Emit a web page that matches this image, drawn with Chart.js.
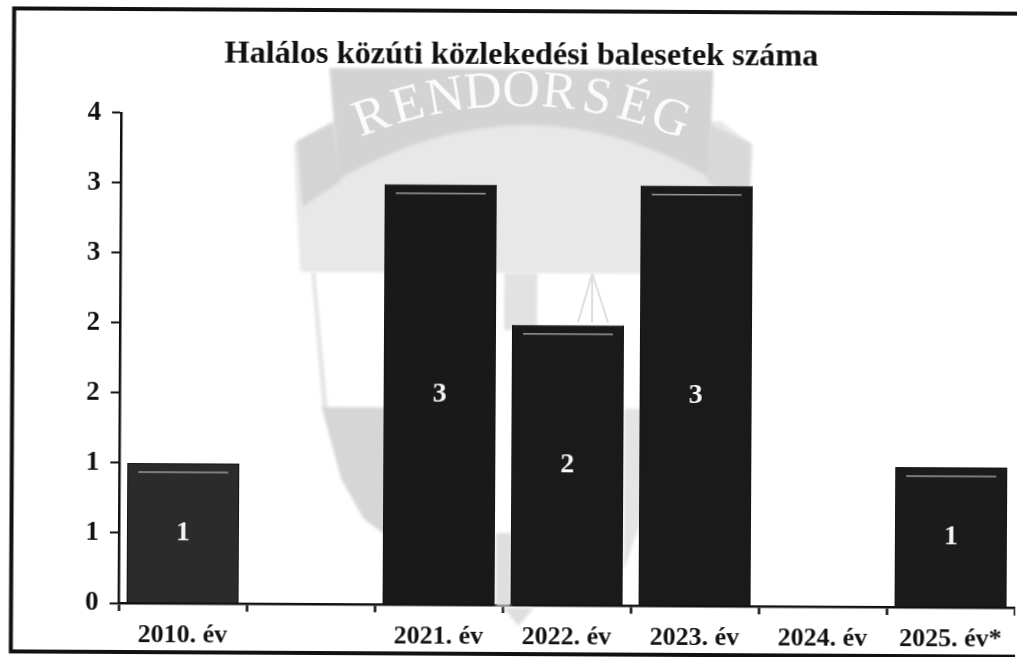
<!DOCTYPE html>
<html lang="hu">
<head>
<meta charset="utf-8">
<title>Halálos közúti közlekedési balesetek száma</title>
<script src="https://cdn.jsdelivr.net/npm/chart.js@4"></script>
<style>
html,body{margin:0;padding:0;background:#fff;overflow:hidden;width:1017px;height:657px}
#c{display:block;transform:rotate(0.3deg);transform-origin:508px 328px}
</style>
</head>
<body>
<canvas id="c" width="1017" height="657"></canvas>
<script>
const chartTitle = 'Halálos közúti közlekedési balesetek száma';
const categories = ['2010. év', '', '2021. év', '2022. év', '2023. év', '2024. év', '2025. év*'];
const values = [1, null, 3, 2, 3, 0, 1];
const barColors = ['#2b2b2b', '#1a1a1a', '#191919', '#1a1a1a', '#1a1a1a', '#1a1a1a', '#1b1b1b'];
const yTickLabels = ['0', '1', '1', '2', '2', '3', '3', '4'];
const watermarkText = 'RENDORSÉG';

const SERIF = '"Liberation Serif", "Times New Roman", serif';
const INK = '#111111';

function poly(ctx, pts, fill) {
  ctx.beginPath();
  pts.forEach((p, i) => i ? ctx.lineTo(p[0], p[1]) : ctx.moveTo(p[0], p[1]));
  ctx.closePath();
  ctx.fillStyle = fill;
  ctx.fill();
}

const watermark = {
  id: 'watermark',
  beforeDatasetsDraw(chart) {
    const ctx = chart.ctx;
    ctx.save();
    ctx.filter = 'blur(1.5px)';
    poly(ctx, [[293,145],[335,120],[720,120],[752,145],[748,210],[745,273],[300,273],[296,210]], '#e8e8e8');
    poly(ctx, [[296,142],[332,124],[340,182],[302,208]], '#d4d4d4');
    poly(ctx, [[710,124],[750,142],[748,205],[706,180]], '#d8d8d8');
    ctx.beginPath();
    ctx.moveTo(328,69);
    ctx.lineTo(712,69);
    ctx.lineTo(708,176);
    ctx.quadraticCurveTo(525,72,338,180);
    ctx.closePath();
    ctx.fillStyle = '#d3d3d3';
    ctx.fill();
    poly(ctx, [[504,273],[537,273],[537,330],[504,330]], '#e2e2e2');
    poly(ctx, [[311,273],[315,273],[328,410],[323,410]], '#e4e4e4');
    poly(ctx, [[322,408],[386,408],[386,535],[365,520],[342,480]], '#d6d6d6');
    poly(ctx, [[625,408],[642,408],[642,520],[625,570]], '#e4e4e4');
    poly(ctx, [[497,533],[512,533],[512,606],[497,606]], '#dedede');
    poly(ctx, [[505,608],[535,608],[520,626]], '#dedede');
    ctx.filter = 'none';
    ctx.strokeStyle = '#dddddd';
    ctx.lineWidth = 2;
    ctx.beginPath();
    ctx.moveTo(592,273); ctx.lineTo(578,322);
    ctx.moveTo(592,273); ctx.lineTo(592,322);
    ctx.moveTo(592,273); ctx.lineTo(608,322);
    ctx.stroke();
    const cx = 520, cy = 520, r = 428, step = 5.1 * Math.PI / 180;
    ctx.font = '52px ' + SERIF;
    ctx.fillStyle = '#fbfbfb';
    ctx.textAlign = 'center';
    ctx.textBaseline = 'middle';
    [...watermarkText].forEach((ch, i) => {
      const a = (i - (watermarkText.length - 1) / 2) * step;
      ctx.save();
      ctx.translate(cx + r * Math.sin(a), cy - r * Math.cos(a));
      ctx.rotate(a);
      ctx.fillText(ch, 0, 0);
      ctx.restore();
    });
    ctx.restore();
  }
};

const frameAndLabels = {
  id: 'frameAndLabels',
  afterDatasetsDraw(chart) {
    const ctx = chart.ctx;
    const meta = chart.getDatasetMeta(0);
    ctx.save();
    meta.data.forEach((bar, i) => {
      const v = values[i];
      if (!v) return;
      const half = bar.width / 2;
      ctx.strokeStyle = '#9a9a9a';
      ctx.lineWidth = 1.5;
      ctx.beginPath();
      ctx.moveTo(bar.x - half + 11, bar.y + 9);
      ctx.lineTo(bar.x + half - 11, bar.y + 9);
      ctx.stroke();
      ctx.fillStyle = '#f5f5f5';
      ctx.font = 'bold 28px ' + SERIF;
      ctx.textAlign = 'center';
      ctx.textBaseline = 'middle';
      ctx.fillText(String(v), bar.x, (bar.y + bar.base) / 2);
    });
    ctx.strokeStyle = '#111';
    ctx.lineWidth = 4;
    ctx.beginPath();
    ctx.moveTo(1040, 11);
    ctx.lineTo(12.5, 11);
    ctx.lineTo(12.5, 654);
    ctx.lineTo(1040, 654);
    ctx.stroke();
    ctx.restore();
  }
};

new Chart(document.getElementById('c'), {
  type: 'bar',
  data: {
    labels: categories,
    datasets: [{
      data: values,
      backgroundColor: barColors,
      borderColor: '#141414',
      borderWidth: 1,
      barPercentage: 0.875,
      categoryPercentage: 1
    }]
  },
  plugins: [watermark, frameAndLabels],
  options: {
    responsive: false,
    animation: false,
    layout: { padding: { left: 24, right: 1, top: 0, bottom: 0 } },
    plugins: {
      legend: { display: false },
      tooltip: { enabled: false },
      title: {
        display: true,
        text: chartTitle,
        color: INK,
        font: { family: SERIF, size: 32.3, weight: 'bold' },
        padding: { top: 36, bottom: 40 }
      }
    },
    scales: {
      x: {
        afterFit(s) { s.height = 52; },
        border: { color: '#111', width: 2.5 },
        grid: { drawOnChartArea: false, drawTicks: true, tickLength: 8, tickColor: '#111', tickWidth: 2.5 },
        ticks: { color: INK, padding: 9, maxRotation: 0, autoSkip: false, font: { family: SERIF, size: 26, weight: 'bold' } }
      },
      y: {
        min: 0,
        max: 3.5,
        afterFit(s) { s.width = 96; },
        border: { color: '#111', width: 2.5 },
        grid: { drawOnChartArea: false, drawTicks: true, tickLength: 9, tickColor: '#111', tickWidth: 2 },
        ticks: {
          stepSize: 0.5,
          color: INK,
          padding: 11,
          font: { family: SERIF, size: 27, weight: 'bold' },
          callback: (value, index) => yTickLabels[index]
        }
      }
    }
  }
});
</script>
</body>
</html>
